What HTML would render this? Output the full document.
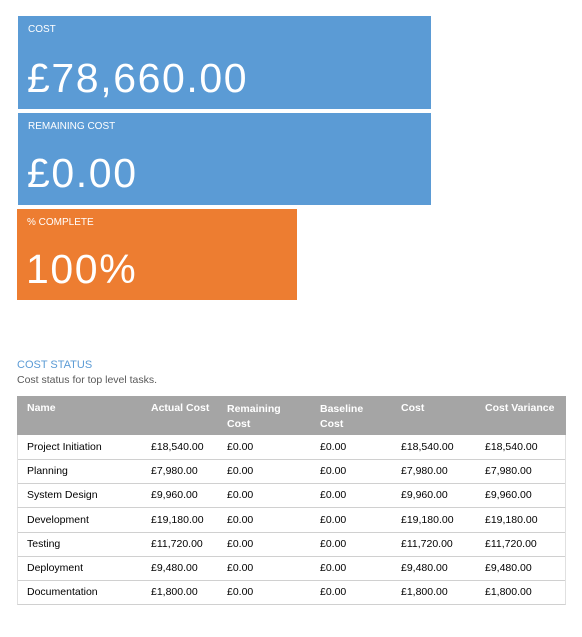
<!DOCTYPE html>
<html><head><meta charset="utf-8"><style>
body{margin:0;width:582px;height:637px;background:#fff;font-family:"Liberation Sans",sans-serif;position:relative;overflow:hidden}
.card{position:absolute;color:#fff}
.card .lbl{position:absolute;left:10px;top:8px;font-size:10px}
.card .val{position:absolute;left:9px;top:39px;font-size:41px;line-height:46px;letter-spacing:1.6px}
.row{position:absolute;left:17px;width:549px;height:24px;border-bottom:1px solid #d0d0d0;font-size:10.5px;color:#000}
.row span,.hdr span{position:absolute}
.hdr{position:absolute;left:17px;top:396px;width:549px;height:39px;background:#a5a5a5;color:#fff;font-weight:bold;font-size:10.5px}
</style></head><body>
<div class="card" style="left:18px;top:16px;width:413px;height:93px;background:#5b9bd5">
<div class="lbl">COST</div>
<div class="val">£78,660.00</div></div>
<div class="card" style="left:18px;top:113px;width:413px;height:92px;background:#5b9bd5">
<div class="lbl">REMAINING COST</div>
<div class="val" style="top:37px">£0.00</div></div>
<div class="card" style="left:17px;top:209px;width:280px;height:91px;background:#ed7d31">
<div class="lbl">% COMPLETE</div>
<div class="val" style="top:37px">100%</div></div>
<div style="position:absolute;left:17px;top:359px;font-size:11px;color:#5b9bd5">COST STATUS</div>
<div style="position:absolute;left:17px;top:374px;font-size:10.5px;color:#595959">Cost status for top level tasks.</div>
<div class="hdr">
<span style="left:10px;top:6px">Name</span>
<span style="left:134px;top:6px">Actual Cost</span>
<span style="left:210px;top:6px;line-height:15px">Remaining<br>Cost</span>
<span style="left:303px;top:6px;line-height:15px">Baseline<br>Cost</span>
<span style="left:384px;top:6px">Cost</span>
<span style="left:468px;top:6px">Cost Variance</span>
</div>
<div id="rows"></div>
<script>
const names=["Project Initiation","Planning","System Design","Development","Testing","Deployment","Documentation"];
const actual=["£18,540.00","£7,980.00","£9,960.00","£19,180.00","£11,720.00","£9,480.00","£1,800.00"];
const remaining=["£0.00","£0.00","£0.00","£0.00","£0.00","£0.00","£0.00"];
const baseline=["£0.00","£0.00","£0.00","£0.00","£0.00","£0.00","£0.00"];
const cost=["£18,540.00","£7,980.00","£9,960.00","£19,180.00","£11,720.00","£9,480.00","£1,800.00"];
const variance=["£18,540.00","£7,980.00","£9,960.00","£19,180.00","£11,720.00","£9,480.00","£1,800.00"];
const lefts=[10,134,210,303,384,468];
const host=document.getElementById('rows');
names.forEach((n,i)=>{
 const r=document.createElement('div');r.className='row';
 
 
 r.style.top=(435+i*24.2)+'px';
 r.style.borderLeft='1px solid #e0e0e0';r.style.borderRight='1px solid #e0e0e0';r.style.width='547px';
 [n,actual[i],remaining[i],baseline[i],cost[i],variance[i]].forEach((t,j)=>{
  const s=document.createElement('span');s.textContent=t;
  
  
  s.style.left=(lefts[j]-1)+'px';s.style.top='6px';r.appendChild(s);});
 host.appendChild(r);});
</script>
</body></html>
